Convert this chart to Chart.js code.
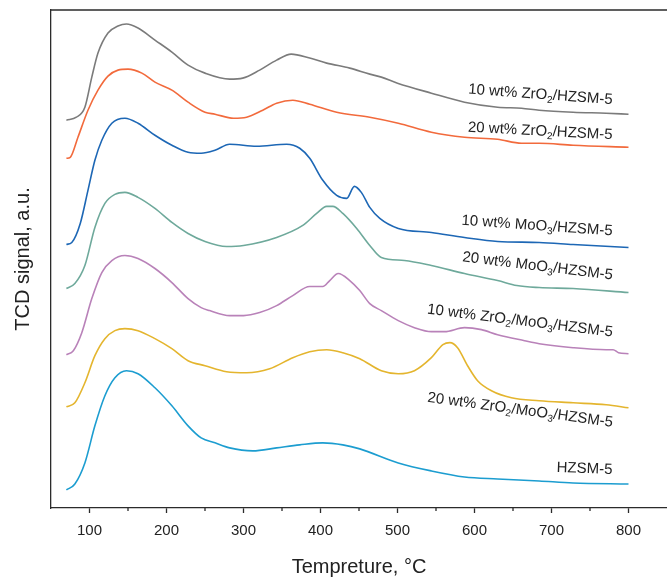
<!DOCTYPE html>
<html>
<head>
<meta charset="utf-8">
<script src="https://cdn.jsdelivr.net/npm/chart.js@4.4.1/dist/chart.umd.min.js"></script>
<style>
  body{margin:0;background:#fff}
  #wrap{width:667px;height:579px;position:relative}
</style>
</head>
<body>
<div id="wrap"><canvas id="tpd"></canvas></div>
<script>
// TPD curves, temperature in °C and TCD signal (a.u., curves offset from each other)
var zr10Temp=[70,83,94,103,111,124,137,148,163,185,207,228,250,282,299,321,343,362,386,408,438,464,479,500,544,587,630,661,684,728,771,800]
var zr10Sig=[387,390,400,430,454,474,481,483,479,467,455,442,434,428,429,437,447,453,449,444,439,433,430,424,414,405,400,399,397,395,394,393]

var zr20Temp=[70,75,85,98,111,124,137,150,168,185,207,228,250,263,287,304,325,343,364,386,421,464,501,544,587,630,661,684,728,800]
var zr20Sig=[349,350,370,397,417,431,437,438,434,425,417,405,395,393,389,390,397,404,407,403,395,390,384,375,370,368,364,364,362,360]

var mo10Temp=[70,77,88,98,107,116,129,146,163,185,207,228,245,263,282,317,356,373,386,403,421,434,444,453,464,477,501,544,587,630,684,728,800]
var mo10Sig=[263,265,284,317,347,367,384,389,384,372,362,355,354,357,363,361,363,359,349,327,312,309,321,315,300,289,279,275,270,266,265,263,260]

var mo20Temp=[70,81,94,107,120,133,146,163,185,207,228,250,278,300,343,377,395,408,416,429,447,464,479,509,544,587,630,655,684,728,800]
var mo20Sig=[219,224,242,280,304,313,315,310,299,285,274,266,261,262,270,282,294,301,301,294,279,262,250,247,242,234,227,222,220,219,215]

var zrmo10Temp=[70,79,90,103,116,129,146,163,185,207,228,245,256,282,300,321,343,364,386,403,412,423,438,451,464,479,501,522,544,561,587,609,630,665,684,728,771,780,787,800]
var zrmo10Sig=[153,157,175,209,235,247,252,249,239,225,209,200,197,192,192,195,202,212,221,221,227,234,227,217,204,197,187,180,176,176,180,178,173,167,164,160,158,158,155,154]

var zrmo20Temp=[70,81,94,107,120,133,146,163,185,207,228,250,278,304,334,364,386,408,429,451,479,501,522,544,559,568,578,591,604,622,648,684,728,771,800]
var zrmo20Sig=[101,105,125,152,169,177,179,177,169,159,147,142,136,135,139,150,156,158,155,149,137,134,137,150,163,165,160,142,127,117,110,107,105,103,100]

var hzTemp=[70,81,94,107,120,133,148,163,185,207,228,245,263,282,312,343,373,403,429,451,501,544,587,630,684,728,800]
var hzSig=[18,24,45,82,112,130,137,134,120,102,82,70,65,60,57,60,63,65,63,59,45,37,31,29,27,25,24]

var majorTicks=[100,200,300,400,500,600,700,800]
var minorTicks=[150,250,350,450,550,650,750]

var fam='"Liberation Sans", Arial, sans-serif'
var ink='#222'

function pts(t,s){
  return t.map(function(v,i){return {x:v,y:s[i]}})
}

function line(name,t,s,color){
  return {label:name,data:pts(t,s),borderColor:color,borderWidth:1.6,pointRadius:0,
          fill:false,cubicInterpolationMode:'monotone'}
}

// curve labels: text (_n marks a subscript), right end (x, y in data units), tilt in degrees
var tags=[
  {text:'10 wt% ZrO_2/HZSM-5',x:779,y:403,tilt:4.2},
  {text:'20 wt% ZrO_2/HZSM-5',x:779,y:368,tilt:3},
  {text:'10 wt% MoO_3/HZSM-5',x:779,y:272,tilt:4.1},
  {text:'20 wt% MoO_3/HZSM-5',x:779,y:228,tilt:6.9},
  {text:'10 wt% ZrO_2/MoO_3/HZSM-5',x:779,y:171,tilt:7.1},
  {text:'20 wt% ZrO_2/MoO_3/HZSM-5',x:779,y:81,tilt:7.7},
  {text:'HZSM-5',x:779,y:34,tilt:2}
]

function drawTag(ctx,txt,size){
  var parts=txt.split(/_(\d)/)
  var w=0
  parts.forEach(function(p,i){
    ctx.font=(i%2?Math.round(size*0.68):size)+'px '+fam
    w+=ctx.measureText(p).width
  })
  var cx=-w
  parts.forEach(function(p,i){
    ctx.font=(i%2?Math.round(size*0.68):size)+'px '+fam
    ctx.fillText(p,cx,i%2?size*0.22:0)
    cx+=ctx.measureText(p).width
  })
}

var extras={
  id:'extras',
  afterDraw:function(chart){
    var ctx=chart.ctx, a=chart.chartArea, x=chart.scales.x, y=chart.scales.y
    ctx.save()
    ctx.strokeStyle='#2b2b2b'
    ctx.lineWidth=1.3
    ctx.beginPath()
    ctx.moveTo(a.left,a.top)
    ctx.lineTo(a.right,a.top)
    for(var v of minorTicks){
      var px=x.getPixelForValue(v)
      ctx.moveTo(px,a.bottom)
      ctx.lineTo(px,a.bottom+3)
    }
    ctx.stroke()
    ctx.fillStyle=ink
    ctx.textBaseline='alphabetic'
    for(var t of tags){
      ctx.save()
      ctx.translate(x.getPixelForValue(t.x),y.getPixelForValue(t.y))
      ctx.rotate(t.tilt*Math.PI/180)
      drawTag(ctx,t.text,15)
      ctx.restore()
    }
    ctx.restore()
  }
}

new Chart(document.getElementById('tpd'),{
  type:'line',
  data:{datasets:[
    line('10 wt% ZrO2/HZSM-5',zr10Temp,zr10Sig,'#7b7b7b'),
    line('20 wt% ZrO2/HZSM-5',zr20Temp,zr20Sig,'#f26a3c'),
    line('10 wt% MoO3/HZSM-5',mo10Temp,mo10Sig,'#1d67b5'),
    line('20 wt% MoO3/HZSM-5',mo20Temp,mo20Sig,'#6ea99b'),
    line('10 wt% ZrO2/MoO3/HZSM-5',zrmo10Temp,zrmo10Sig,'#b982b9'),
    line('20 wt% ZrO2/MoO3/HZSM-5',zrmo20Temp,zrmo20Sig,'#e4b52e'),
    line('HZSM-5',hzTemp,hzSig,'#1c9dd0')
  ]},
  options:{
    responsive:true,
    maintainAspectRatio:false,
    animation:false,
    layout:{padding:{left:7,right:0,top:10,bottom:0}},
    plugins:{legend:{display:false},tooltip:{enabled:false}},
    scales:{
      x:{type:'linear',min:50,max:850,
        afterBuildTicks:function(s){s.ticks=majorTicks.map(function(v){return {value:v}})},
        ticks:{color:ink,font:{size:15,family:fam},padding:9,maxRotation:0,autoSkip:false},
        grid:{drawOnChartArea:false,drawTicks:true,tickLength:5,tickColor:'#2b2b2b',tickWidth:1.3},
        border:{display:true,color:'#2b2b2b',width:1.3},
        title:{display:true,text:'Tempreture, °C',color:ink,font:{size:20,family:fam},padding:{top:6,bottom:0}}
      },
      y:{min:0,max:497,
        ticks:{display:false},
        grid:{drawOnChartArea:false,drawTicks:false},
        border:{display:true,color:'#2b2b2b',width:1.3},
        title:{display:true,text:'TCD signal, a.u.',color:ink,font:{size:20,family:fam},padding:{top:4,bottom:16}}
      }
    }
  },
  plugins:[extras]
})
</script>
</body>
</html>
